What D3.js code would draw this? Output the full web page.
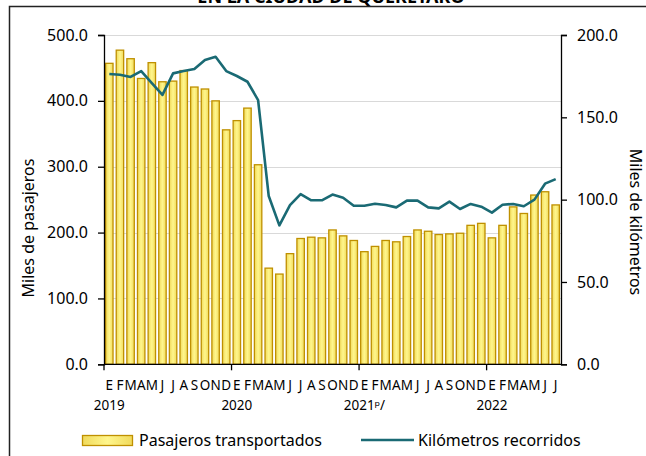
<!DOCTYPE html>
<html><head><meta charset="utf-8">
<script src="https://cdn.jsdelivr.net/npm/d3@7"></script>
<style>
html,body{margin:0;padding:0;background:#fff;}
svg{display:block;font-family:"Noto Sans","Open Sans",sans-serif;}
</style></head>
<body><svg id="c" width="646" height="456"></svg>
<script>
const months = ["E","F","M","A","M","J","J","A","S","O","N","D"];
const years = ["2019","2020","2021ᵖ/","2022"];
const pasajeros = [457,477,464,434,458,429,430,446,421,418,400,356,
  370,389,303,146,137,168,191,193,192,204,195,188,
  171,179,188,186,194,204,202,197,198,199,211,214,
  192,211,239,229,257,262,242];
const kilometros = [176.3,175.9,174.5,178.1,170.8,163.6,176.7,178.1,179.3,184.8,186.8,178.1,
  175.1,171.6,160.5,102.2,84.4,96.7,103.4,99.6,99.6,103.1,101.2,96.3,
  96.3,97.5,96.8,95.3,99.4,99.4,95.3,94.7,98.8,94.3,97.4,95.7,
  92.1,96.9,97.4,96.0,100.0,109.7,112.5];
const leftTicks = [0,100,200,300,400,500];
const rightTicks = [0,50,100,150,200];
const title = "EN LA CIUDAD DE QUERÉTARO";
const legendLabels = ["Pasajeros transportados","Kilómetros recorridos"];

const svg = d3.select("#c");
const x0 = 104, x1 = 561, yTop = 35, yBot = 364.3;
const idx = d3.range(pasajeros.length);
const x = d3.scaleBand().domain(idx).range([x0, x1]).paddingInner(0.3).paddingOuter(0.15);
const yL = d3.scaleLinear().domain([0,500]).range([yBot, yTop]);
const yR = d3.scaleLinear().domain([0,200]).range([yBot, yTop]);

const defs = svg.append("defs");
const g = defs.append("linearGradient").attr("id","bg").attr("x1","0").attr("x2","1").attr("y1","0").attr("y2","0");
g.append("stop").attr("offset","0").attr("stop-color","#F0DA5C");
g.append("stop").attr("offset","0.5").attr("stop-color","#FFF68C");
g.append("stop").attr("offset","1").attr("stop-color","#F0DA5C");

// frame + title
svg.append("text").attr("x",331).attr("y",3).attr("text-anchor","middle")
  .attr("font-weight","bold").attr("font-size",18).attr("fill","#000").text(title);
svg.append("path").attr("d","M9.5,456 V6.5 H646").attr("fill","none").attr("stroke","#222").attr("stroke-width",1.5);

// gridlines
svg.append("g").selectAll("line").data(leftTicks.filter(d=>d>0)).join("line")
  .attr("x1",x0).attr("x2",x1).attr("y1",d=>Math.round(yL(d))+0.5).attr("y2",d=>Math.round(yL(d))+0.5)
  .attr("stroke","#d9d9d9").attr("stroke-width",1.2);

// bars
svg.append("g").selectAll("rect").data(idx).join("rect")
  .attr("x",i=>x(i)).attr("width",x.bandwidth())
  .attr("y",i=>yL(pasajeros[i])).attr("height",i=>yL(0)-yL(pasajeros[i]))
  .attr("fill","url(#bg)").attr("stroke","#BF9000").attr("stroke-width",1.3);

// line
const xc = i => x(i) + x.bandwidth()/2;
svg.append("path").datum(idx)
  .attr("d", d3.line().x(xc).y(i=>yR(kilometros[i])))
  .attr("fill","none").attr("stroke","#1A6A74").attr("stroke-width",2.6).attr("stroke-linejoin","round");

// left axis
const axL = svg.append("g").attr("transform",`translate(${x0},0)`)
  .call(d3.axisLeft(yL).tickValues(leftTicks).tickFormat(d3.format(".1f")).tickSize(6).tickPadding(10));
// right axis
const axR = svg.append("g").attr("transform",`translate(${x1},0)`)
  .call(d3.axisRight(yR).tickValues(rightTicks).tickFormat(d3.format(".1f")).tickSize(6).tickPadding(10));
[axL,axR].forEach(a=>{
  a.select(".domain").attr("stroke","#000").attr("stroke-width",1.3);
  a.selectAll(".tick line").attr("stroke","#000").attr("stroke-width",1.3);
  a.selectAll(".tick text").attr("font-size",16).attr("fill","#000").attr("font-family","Noto Sans");
});

// x axis
svg.append("line").attr("x1",x0).attr("x2",x1).attr("y1",yBot).attr("y2",yBot).attr("stroke","#000").attr("stroke-width",1.3);
const yearStarts = [0,12,24,36];
svg.append("g").selectAll("line").data(yearStarts).join("line")
  .attr("x1",i=>x0 + (x1-x0)*i/pasajeros.length).attr("x2",i=>x0 + (x1-x0)*i/pasajeros.length)
  .attr("y1",yBot).attr("y2",yBot+6).attr("stroke","#000").attr("stroke-width",1.3);
svg.append("g").selectAll("text").data(idx).join("text")
  .attr("x",xc).attr("y",389.5).attr("text-anchor","middle").attr("font-size",13.5).attr("fill","#000")
  .text(i=>months[i%12]);
svg.append("g").selectAll("text").data(yearStarts).join("text")
  .attr("x",xc).attr("y",410).attr("text-anchor","middle").attr("font-size",13.5).attr("fill","#000")
  .text((d,k)=>years[k]);

// axis titles
svg.append("text").attr("transform","translate(34,228) rotate(-90)").attr("text-anchor","middle")
  .attr("font-size",16).attr("fill","#000").text("Miles de pasajeros");
svg.append("text").attr("transform","translate(630,222) rotate(90)").attr("text-anchor","middle")
  .attr("font-size",16).attr("fill","#000").text("Miles de kilómetros");

// legend
svg.append("rect").attr("x",82.5).attr("y",435.5).attr("width",50).attr("height",10)
  .attr("fill","url(#bg)").attr("stroke","#BF9000").attr("stroke-width",1.3);
svg.append("text").attr("x",139).attr("y",446).attr("font-size",16).attr("fill","#000").text(legendLabels[0]);
svg.append("line").attr("x1",361).attr("x2",414).attr("y1",440).attr("y2",440).attr("stroke","#1A6A74").attr("stroke-width",2.6);
svg.append("text").attr("x",418).attr("y",446).attr("font-size",16).attr("fill","#000").text(legendLabels[1]);
</script></body></html>
